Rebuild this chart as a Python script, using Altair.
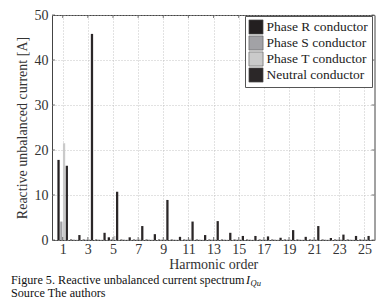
import altair as alt
import pandas as pd

HARMONICS = list(range(1, 26))
PHASE_R = [17.8, 0.1, 0.1, 0.1, 0.6, 0.1, 0.1, 0.1, 0.1, 0.1, 0.1, 0.1, 0.1,
           0.1, 0.1, 0.1, 0.1, 0.1, 0.1, 0.1, 0.1, 0.1, 0.1, 0.1, 0.1]
PHASE_S = [4.1, 0.1, 0.1, 0.1, 0.2, 0.1, 0.1, 0.1, 0.1, 0.1, 0.1, 0.1, 0.1,
           0.1, 0.1, 0.1, 0.1, 0.1, 0.1, 0.1, 0.1, 0.1, 0.1, 0.1, 0.1]
PHASE_T = [21.5, 0.1, 0.2, 0.1, 0.9, 0.1, 0.3, 0.1, 0.2, 0.1, 0.3, 0.1, 0.2,
           0.1, 0.2, 0.1, 0.2, 0.1, 0.2, 0.1, 0.2, 0.1, 0.2, 0.1, 0.2]
NEUTRAL = [16.5, 1.1, 45.8, 1.6, 10.7, 0.6, 3.1, 1.3, 8.9, 0.7, 4.1, 1.1, 4.2,
           1.6, 0.9, 0.9, 0.8, 0.5, 2.2, 0.7, 3.1, 0.45, 1.2, 0.9, 0.9]
SERIES = ["Phase R conductor", "Phase S conductor", "Phase T conductor", "Neutral conductor"]
COLORS = ["#231f20", "#a2a2a6", "#cacaca", "#2b2728"]
XTICKS = list(range(1, 26, 2))
YTICKS = [0, 10, 20, 30, 40, 50]

W, H = 322.5, 225
FONT = "Liberation Serif"

rows = []
for idx, (name, vals) in enumerate(zip(SERIES, [PHASE_R, PHASE_S, PHASE_T, NEUTRAL])):
    for h, v in zip(HARMONICS, vals):
        rows.append({"h": h, "v": v, "series": name, "idx": idx})
bars_df = pd.DataFrame(rows)

xscale = alt.Scale(domain=[0.15, 25.8], nice=False, zero=False)
yscale = alt.Scale(domain=[0, 50], nice=False)
xaxis = alt.Axis(title="Harmonic order", values=XTICKS, format="d",
                 labelFont=FONT, titleFont=FONT)
yaxis = alt.Axis(title="Reactive unbalanced current [A]", values=YTICKS, format="d",
                 labelFont=FONT, titleFont=FONT)

bars = alt.Chart(bars_df).transform_calculate(
    x0="datum.h + (datum.idx - 1.5) * 0.22 - 0.09",
    x1="datum.h + (datum.idx - 1.5) * 0.22 + 0.09",
    base="0",
).mark_rect(opacity=1).encode(
    x=alt.X("x0:Q", scale=xscale, axis=xaxis),
    x2="x1:Q",
    y=alt.Y("v:Q", scale=yscale, axis=yaxis),
    y2="base:Q",
    color=alt.Color(
        "series:N",
        scale=alt.Scale(domain=SERIES, range=COLORS),
        legend=alt.Legend(
            title=None, orient="none", legendX=193, legendY=1,
            symbolType="square", symbolSize=200, symbolStrokeColor="#555",
            symbolStrokeWidth=0.6, symbolOpacity=1,
            labelFont=FONT, labelFontSize=13.5, labelColor="#222", labelLimit=0,
            labelOffset=3, fillColor="white", strokeColor="#555",
            padding=3.5, rowPadding=-1.5,
        ),
    ),
)

xt_df = pd.DataFrame({"h": XTICKS})
yt_df = pd.DataFrame({"v": YTICKS})
TICKC = "#555"
tick_bottom = alt.Chart(xt_df).mark_rule(color=TICKC, strokeWidth=0.8).encode(
    x=alt.X("h:Q", scale=xscale, axis=xaxis), y=alt.value(H), y2=alt.value(H - 3))
tick_top = alt.Chart(xt_df).mark_rule(color=TICKC, strokeWidth=0.8).encode(
    x=alt.X("h:Q", scale=xscale, axis=xaxis), y=alt.value(0), y2=alt.value(3))
tick_left = alt.Chart(yt_df).mark_rule(color=TICKC, strokeWidth=0.8).encode(
    y=alt.Y("v:Q", scale=yscale, axis=yaxis), x=alt.value(0), x2=alt.value(3))
tick_right = alt.Chart(yt_df).mark_rule(color=TICKC, strokeWidth=0.8).encode(
    y=alt.Y("v:Q", scale=yscale, axis=yaxis), x=alt.value(W), x2=alt.value(W - 3))

one = pd.DataFrame({"a": [0]})
cap1 = alt.Chart(one).mark_text(
    text="Figure 5. Reactive unbalanced current spectrum", font=FONT, fontSize=12.2,
    color="#111", align="left", baseline="middle",
).encode(x=alt.value(-41), y=alt.value(264.5))
cap_i = alt.Chart(one).mark_text(
    text="I", font=FONT, fontSize=12.2, fontStyle="italic",
    color="#111", align="left", baseline="middle",
).encode(x=alt.value(194), y=alt.value(264.5))
cap_q = alt.Chart(one).mark_text(
    text="Qu", font=FONT, fontSize=8.5, fontStyle="italic",
    color="#111", align="left", baseline="middle",
).encode(x=alt.value(198.5), y=alt.value(268))
cap2 = alt.Chart(one).mark_text(
    text="Source The authors", font=FONT, fontSize=12.2,
    color="#111", align="left", baseline="middle",
).encode(x=alt.value(-41), y=alt.value(277.5))

chart = alt.layer(
    bars, tick_bottom, tick_top, tick_left, tick_right, cap1, cap_i, cap_q, cap2
).properties(
    width=W, height=H,
    autosize=alt.AutoSizeParams(type="none"),
    padding={"left": 52, "top": 15, "right": 14.5, "bottom": 63},
    background="white",
).configure_view(
    stroke="#444", strokeWidth=1,
).configure_axis(
    labelFont=FONT, titleFont=FONT,
    labelFontSize=14, labelColor="#333",
    titleFontSize=14, titleFontWeight="normal", titleColor="#333",
    ticks=False, domain=False, grid=True, gridDash=[1, 2], gridColor="#b5b5b5",
    gridWidth=0.8,
).configure_axisX(
    labelPadding=2, titlePadding=1,
).configure_axisY(
    labelPadding=4, titlePadding=5,
)

chart.save("out.html", embed_options={"renderer": "svg", "actions": False})
